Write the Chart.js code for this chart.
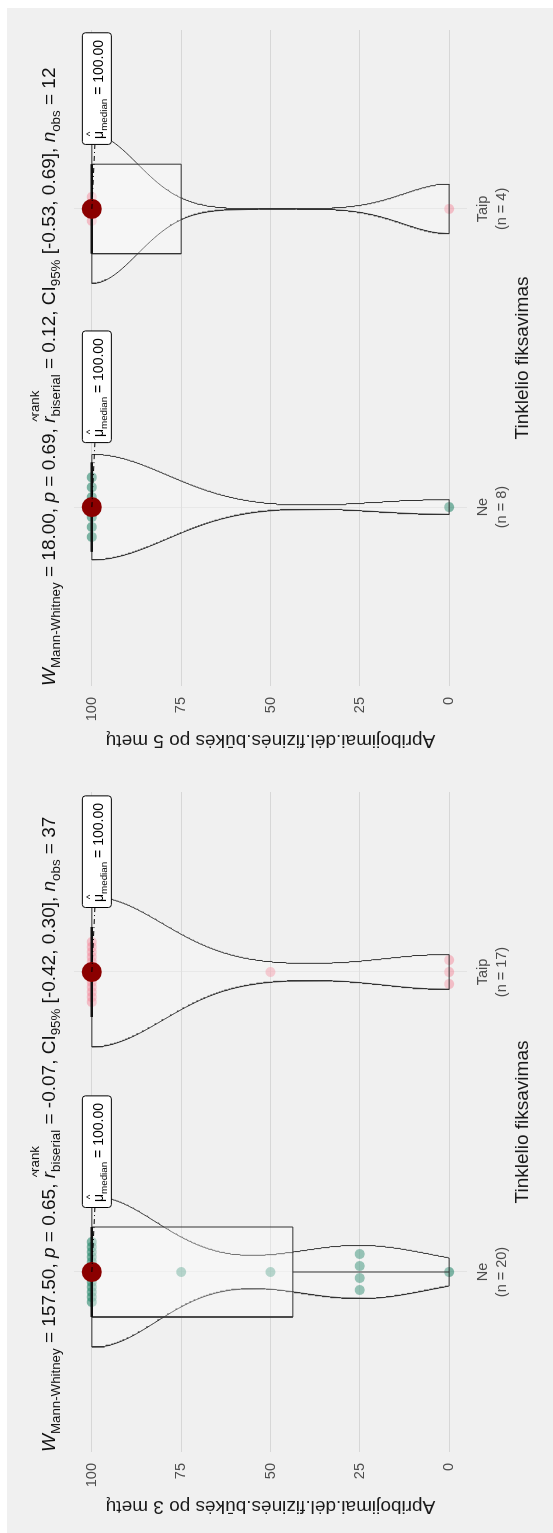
<!DOCTYPE html>
<html>
<head>
<meta charset="utf-8">
<script src="https://cdn.jsdelivr.net/npm/chart.js@4.4.1/dist/chart.umd.min.js"></script>
<style>
  html, body { margin: 0; padding: 0; background: #fff; overflow: hidden; }
  /* both panels are laid out side by side, then the whole strip is turned on its side */
  #stage {
    position: absolute; left: -490px; top: 490px;
    width: 1533px; height: 553px;
    transform: rotate(-90deg);
    background: #fff;
  }
  #graf3 { position: absolute; left: 0; top: 0; }
  #graf5 { position: absolute; left: 766px; top: 0; }
</style>
</head>
<body>
<div id="stage">
  <canvas id="graf3" width="766" height="553"></canvas>
  <canvas id="graf5" width="759" height="553"></canvas>
</div>
<script>
const groupNames = ['Ne', 'Taip'];

// observations, after 3 years
const ne3 = [100, 100, 100, 100, 100, 100, 100, 100, 100, 100, 100, 100, 100, 75, 50, 25, 25, 25, 25, 0];
const taip3 = [100, 100, 100, 100, 100, 100, 100, 100, 100, 100, 100, 100, 100, 50, 0, 0, 0];
// observations, after 5 years
const ne5 = [100, 100, 100, 100, 100, 100, 100, 0];
const taip5 = [100, 100, 100, 0];

const valueTicks = [0, 25, 50, 75, 100];

// Mann-Whitney results for each panel
const wMannWhitney = ['157.50', '18.00'];
const pValues = ['0.65', '0.69'];
const rBiserial = ['-0.07', '0.12'];
const ciLow = ['-0.42', '-0.53'];
const ciHigh = ['0.30', '0.69'];

const yTitles = ['Apribojimai.dėl.fizinės.būkės po 3 metų', 'Apribojimai.dėl.fizinės.būkės po 5 metų'];
const xTitle = 'Tinklelio fiksavimas';

const FONT = '"Liberation Sans", Arial, sans-serif';
const pointColors = ['rgba(27, 130, 100, 0.55)', 'rgba(245, 120, 140, 0.42)'];

Chart.defaults.font.family = FONT;

// --- small stats helpers (R type 7 quantiles, bw.nrd0, gaussian kde) ---
function quantile(xs, p) {
  const s = [...xs].sort((a, b) => a - b);
  const h = (s.length - 1) * p;
  const lo = Math.floor(h);
  const next = lo + 1 < s.length ? s[lo + 1] : s[lo];
  return s[lo] + (h - lo) * (next - s[lo]);
}

function sd(xs) {
  const m = xs.reduce((a, b) => a + b, 0) / xs.length;
  return Math.sqrt(xs.reduce((a, v) => a + (v - m) * (v - m), 0) / (xs.length - 1));
}

function bwNrd0(xs) {
  const hi = sd(xs);
  let lo = Math.min(hi, (quantile(xs, 0.75) - quantile(xs, 0.25)) / 1.34);
  if (!lo) lo = hi || Math.abs(xs[0]) || 1;
  return 0.9 * lo * Math.pow(xs.length, -0.2);
}

function density(xs, bw, y) {
  let s = 0;
  xs.forEach(v => {
    const z = (y - v) / bw;
    s += Math.exp(-0.5 * z * z);
  });
  return s / (xs.length * bw * Math.sqrt(2 * Math.PI));
}

function densityGrid(xs) {
  const bw = bwNrd0(xs);
  const lo = Math.min(...xs), hi = Math.max(...xs);
  const grid = [];
  for (let i = 0; i <= 256; i++) {
    const y = lo + (hi - lo) * i / 256;
    grid.push({ y, d: density(xs, bw, y) });
  }
  return grid;
}

// closed outline of one violin, width 0.5 at the largest density of the panel
function violinPath(grid, center, maxDens) {
  const right = grid.map(g => ({ x: center + 0.25 * g.d / maxDens, y: g.y }));
  const left = grid.map(g => ({ x: center - 0.25 * g.d / maxDens, y: g.y })).reverse();
  return [...right, ...left, right[0]];
}

function boxStats(xs) {
  const q1 = quantile(xs, 0.25), med = quantile(xs, 0.5), q3 = quantile(xs, 0.75);
  const iqr = q3 - q1;
  const inside = xs.filter(v => v >= q1 - 1.5 * iqr && v <= q3 + 1.5 * iqr);
  return { q1, med, q3, lo: Math.min(q1, ...inside), hi: Math.max(q3, ...inside) };
}

// tied values are spread sideways so they don't sit on top of each other
function spreadPoints(xs, center) {
  const counts = {}, seen = {};
  xs.forEach(v => { counts[v] = (counts[v] || 0) + 1; });
  return xs.map(v => {
    const k = counts[v];
    const i = seen[v] = (seen[v] === undefined ? 0 : seen[v] + 1);
    const step = k > 1 ? Math.min(0.2 / (k - 1), 0.04) : 0;
    return { x: center + (i - (k - 1) / 2) * step, y: v };
  });
}

// rich text: italics, subscripts, superscripts and hats
function drawRich(ctx, x, y, parts, size) {
  parts.forEach(p => {
    const fs = p.sub ? size * 0.7 : size;
    ctx.font = (p.it ? 'italic ' : '') + fs + 'px ' + FONT;
    const w = ctx.measureText(p.t).width;
    ctx.fillText(p.t, x, y + (p.sub ? size * 0.28 : 0));
    let adv = w;
    if (p.hat) {
      ctx.font = (size * 0.7) + 'px ' + FONT;
      const hw = ctx.measureText('^').width;
      ctx.fillText('^', x + w / 2 - hw / 2 + 1, y - size * 0.72);
    }
    if (p.sup) {
      ctx.font = (size * 0.7) + 'px ' + FONT;
      const sw = ctx.measureText(p.sup).width;
      ctx.fillText(p.sup, x, y - size * 0.85);
      adv = Math.max(adv, sw);
    }
    x += adv;
  });
  return x;
}

const background = {
  id: 'background',
  beforeDraw(chart) {
    const { ctx, width, height } = chart;
    ctx.save();
    ctx.fillStyle = '#f0f0f0';
    ctx.fillRect(0, 7, width, height - 7);
    ctx.restore();
  }
};

function buildPanel(canvasId, groups, panel, padRight) {
  const nObs = groups.reduce((s, g) => s + g.length, 0);
  const grids = groups.map(densityGrid);
  const maxDens = Math.max(...grids.flat().map(g => g.d));
  const boxes = groups.map(boxStats);

  const datasets = [];
  groups.forEach((xs, g) => {
    const c = g + 1;
    const b = boxes[g];
    datasets.push({
      data: violinPath(grids[g], c, maxDens), showLine: true, fill: 'shape',
      backgroundColor: 'rgba(255,255,255,0.2)', borderColor: '#333', borderWidth: 1,
      pointRadius: 0, order: 6
    });
    datasets.push({
      data: [{ x: c - 0.15, y: b.q1 }, { x: c + 0.15, y: b.q1 }, { x: c + 0.15, y: b.q3 },
             { x: c - 0.15, y: b.q3 }, { x: c - 0.15, y: b.q1 }],
      showLine: true, fill: 'shape', backgroundColor: 'rgba(255,255,255,0.3)',
      borderColor: '#333', borderWidth: 1, pointRadius: 0, order: 5
    });
    datasets.push({
      data: [{ x: c, y: b.lo }, { x: c, y: b.q1 }, { x: c, y: null }, { x: c, y: b.q3 }, { x: c, y: b.hi }],
      showLine: true, borderColor: '#333', borderWidth: 1, pointRadius: 0, order: 5
    });
    datasets.push({
      data: [{ x: c - 0.15, y: b.med }, { x: c + 0.15, y: b.med }],
      showLine: true, borderColor: '#111', borderWidth: 2.5, pointRadius: 0, order: 4
    });
    datasets.push({
      data: spreadPoints(xs, c), pointRadius: 5, pointBorderWidth: 0,
      backgroundColor: pointColors[g], order: 7
    });
    datasets.push({
      data: [{ x: c, y: b.med }], pointRadius: 10, pointBorderWidth: 0,
      backgroundColor: '#8b0000', order: 1
    });
  });

  // test statistics above the plot
  const subtitle = {
    id: 'subtitle',
    afterDraw(chart) {
      const ctx = chart.ctx;
      ctx.save();
      ctx.fillStyle = '#111';
      ctx.textBaseline = 'alphabetic';
      drawRich(ctx, chart.chartArea.left, 55, [
        { t: 'W', it: true },
        { t: 'Mann-Whitney', sub: true },
        { t: ' = ' + wMannWhitney[panel] + ', ' },
        { t: 'p', it: true },
        { t: ' = ' + pValues[panel] + ', ' },
        { t: 'r', it: true, hat: true },
        { t: 'biserial', sub: true, sup: 'rank' },
        { t: ' = ' + rBiserial[panel] + ', CI' },
        { t: '95%', sub: true },
        { t: ' [' + ciLow[panel] + ', ' + ciHigh[panel] + '], ' },
        { t: 'n', it: true },
        { t: 'obs', sub: true },
        { t: ' = ' + nObs }
      ], 19);
      ctx.restore();
    }
  };

  // median labels with their leader lines
  const medianLabels = {
    id: 'medianLabels',
    afterDatasetsDraw(chart) {
      const { ctx, scales: { x, y } } = chart;
      boxes.forEach((b, g) => {
        const px = x.getPixelForValue(g + 1);
        const py = y.getPixelForValue(b.med);
        const parts = [{ t: 'μ', hat: true }, { t: 'median', sub: true }, { t: ' = ' + b.med.toFixed(2) }];
        ctx.save();
        let tw = 0;
        parts.forEach(p => {
          ctx.font = (p.sub ? 10 : 14) + 'px ' + FONT;
          tw += ctx.measureText(p.t).width;
        });
        const left = px + 64, top = py - 10, w = tw + 12, h = 29;
        ctx.strokeStyle = '#000';
        ctx.lineWidth = 1;
        ctx.setLineDash([5, 3, 1, 3]);
        ctx.beginPath();
        ctx.moveTo(px, py);
        ctx.lineTo(left, py + 3);
        ctx.stroke();
        ctx.setLineDash([]);
        ctx.fillStyle = '#fff';
        ctx.beginPath();
        ctx.roundRect(left + 0.5, top + 0.5, w, h, 3);
        ctx.fill();
        ctx.stroke();
        ctx.fillStyle = '#000';
        drawRich(ctx, left + 6, top + 21, parts, 14);
        ctx.restore();
      });
    }
  };

  new Chart(document.getElementById(canvasId), {
    type: 'scatter',
    data: { datasets },
    plugins: [background, subtitle, medianLabels],
    options: {
      responsive: false,
      animation: false,
      events: [],
      layout: { padding: { left: 0, top: 74, right: padRight, bottom: 0 } },
      plugins: { legend: { display: false }, tooltip: { enabled: false } },
      scales: {
        x: {
          type: 'linear', min: 0.4, max: 2.6,
          afterBuildTicks: a => { a.ticks = [{ value: 1 }, { value: 2 }]; },
          afterFit: a => { a.height = 86; },
          grid: { color: '#e3e3e3', drawTicks: false },
          border: { display: false },
          ticks: {
            padding: 7, color: '#4d4d4d', font: { size: 14.5, lineHeight: 1.3 },
            callback: v => [groupNames[v - 1], '(n = ' + groups[v - 1].length + ')']
          },
          title: { display: true, text: xTitle, color: '#1a1a1a', font: { size: 19 }, padding: { bottom: 19 } }
        },
        y: {
          min: -5, max: 105,
          afterBuildTicks: a => { a.ticks = valueTicks.map(v => ({ value: v })); },
          afterFit: a => { a.width = 81; },
          grid: { color: '#d7d7d7', drawTicks: false },
          border: { display: false },
          ticks: { padding: 11, color: '#4d4d4d', font: { size: 14.5 } },
          title: { display: true, text: yTitles[panel], color: '#1a1a1a', font: { size: 19 }, padding: { top: 15 } }
        }
      }
    }
  });
}

buildPanel('graf3', [ne3, taip3], 0, 25);
buildPanel('graf5', [ne5, taip5], 1, 22);
</script>
</body>
</html>
